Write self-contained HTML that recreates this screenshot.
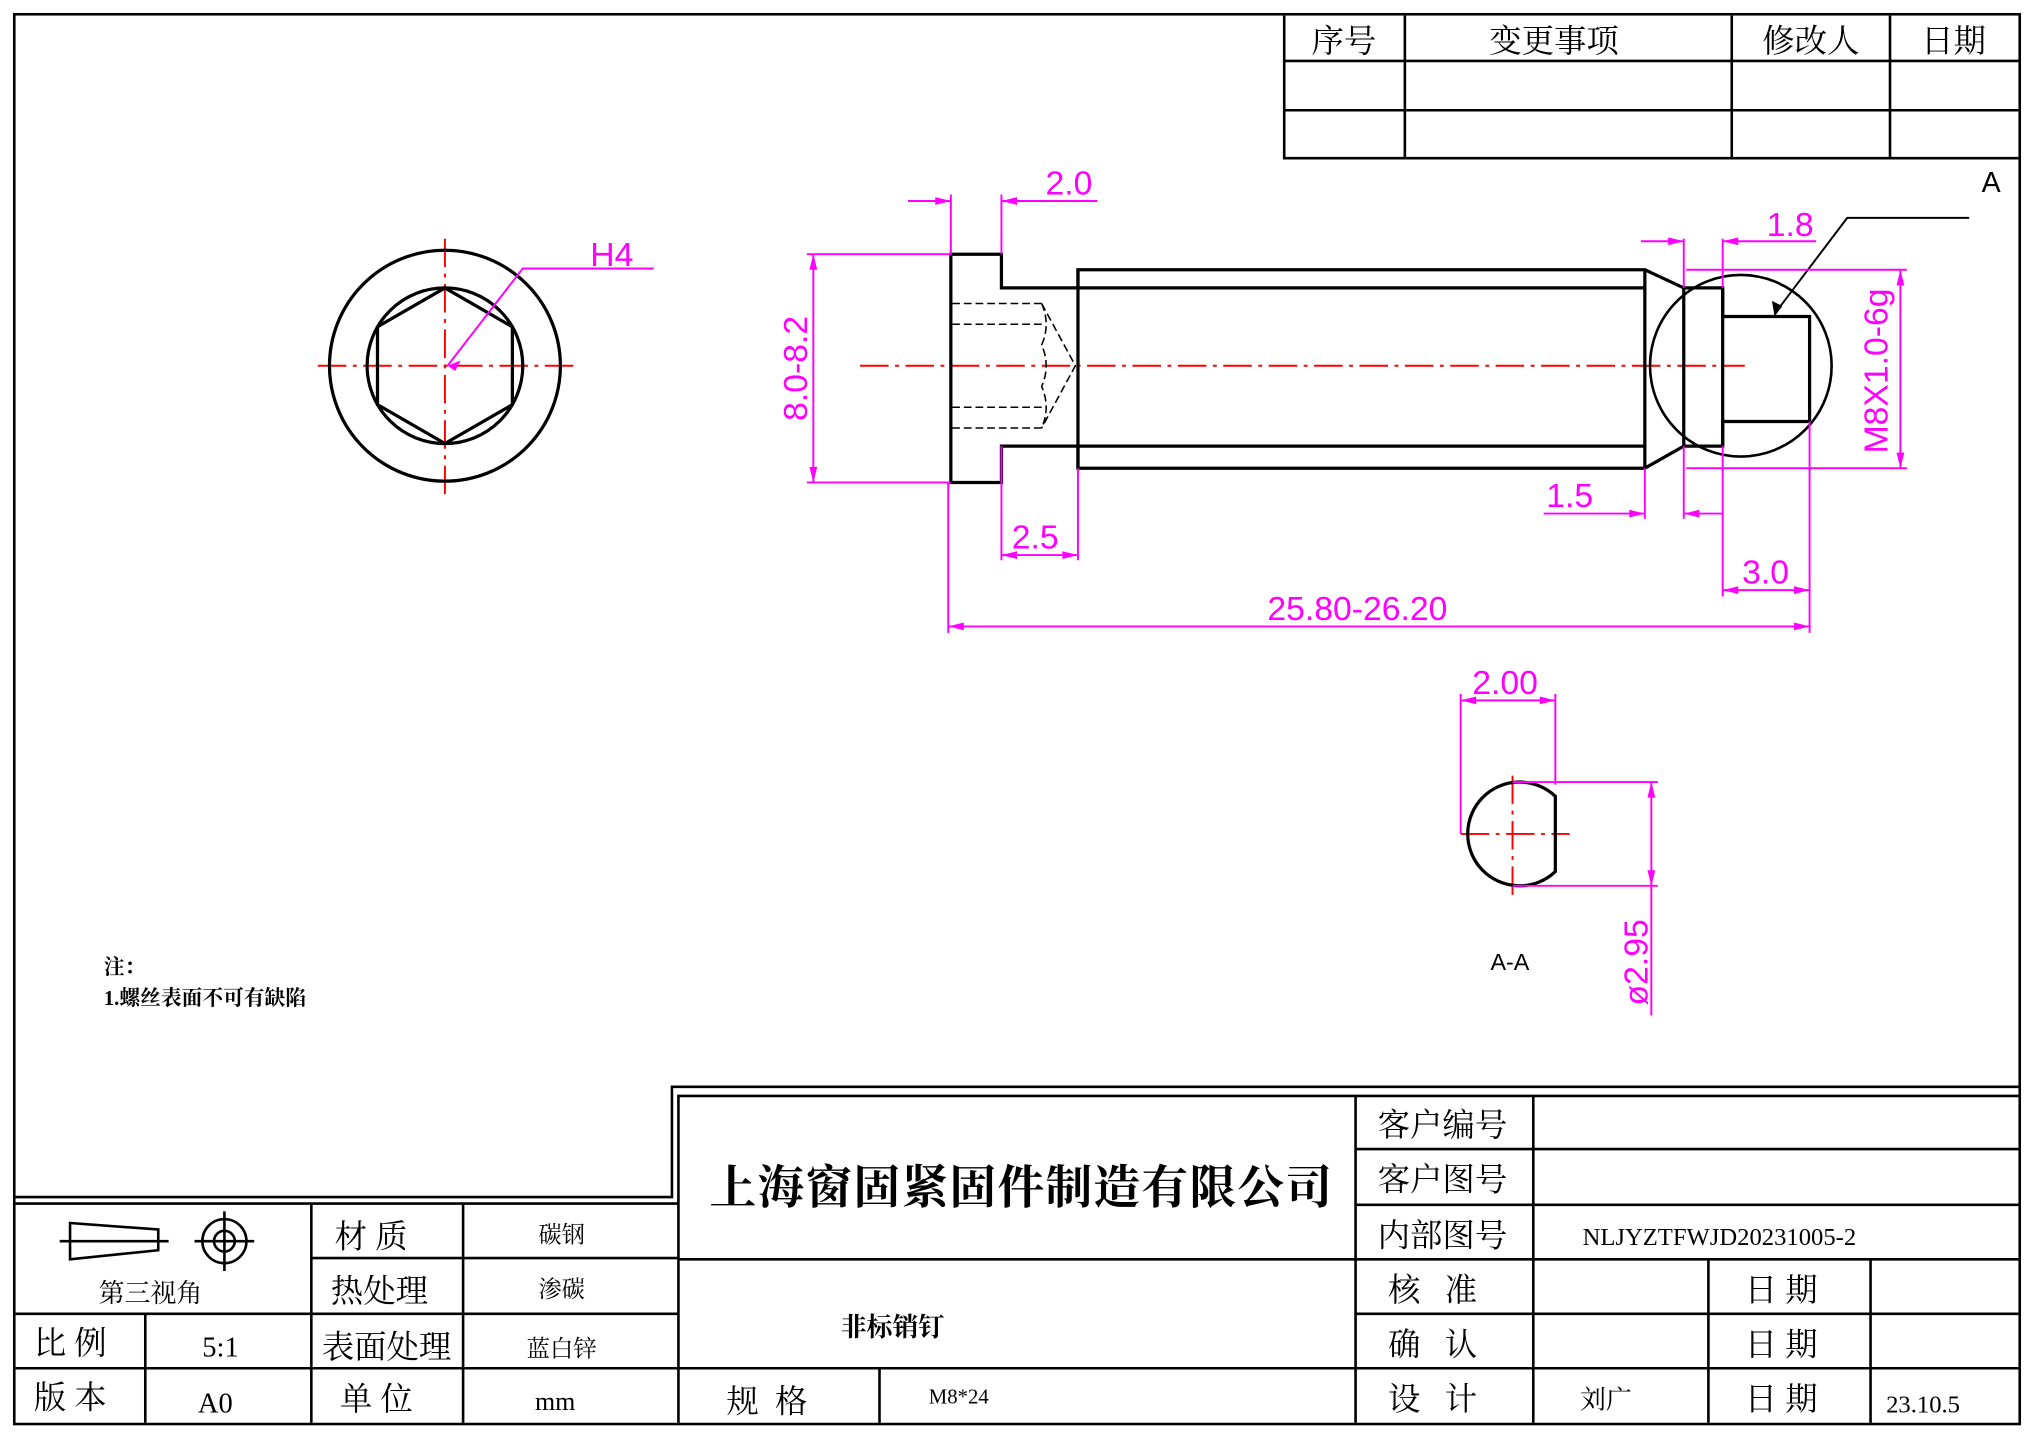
<!DOCTYPE html>
<html><head><meta charset="utf-8"><style>
html,body{margin:0;padding:0;background:#fff}
svg{display:block}
.c{font-family:"Liberation Serif","Noto Serif CJK SC",serif;fill:#000}
.d{font-family:"Liberation Sans",sans-serif;fill:#f0f}
</style></head><body>
<svg width="2034" height="1437" viewBox="0 0 1568 1108" preserveAspectRatio="none" xmlns="http://www.w3.org/2000/svg">
<rect x="0" y="0" width="1568" height="1108" fill="#fff"/>
<g stroke="#000" stroke-width="2" fill="none">
<rect x="11" y="11" width="1546" height="1087"/>
<path d="M990 12V122H1556M990 47H1556M990 85H1556M1083 12V122M1335 12V122M1457 12V122"/>
<path d="M12 923H518V838H1556M12 928H523V845H1556M523 845V1097"/>
<path d="M12 1013H523M12 1055H523M240 928V1097M357 928V1097M112 1013V1097M240 970H523"/>
<path d="M523 971H1556M523 1055H1045M678 1055V1097M1045 845V1097M1045 886H1556M1045 929H1556M1045 1013H1556M1045 1055H1556M1182 845V1097M1317 971V1097M1442 971V1097"/>
</g>
<g stroke="#000" stroke-width="2" fill="none">
<path d="M54 943L122 948V964L54 971Z"/><path d="M46 957H130"/>
<circle cx="173" cy="957" r="17"/><circle cx="173" cy="957" r="8"/><path d="M150 957H196M173 934V980"/>
</g>
<g class="c" font-size="25" text-anchor="middle">
<text x="1036" y="40">序号</text><text x="1198" y="40">变更事项</text><text x="1396" y="40">修改人</text><text x="1506" y="40">日期</text>
</g>
<text x="1535" y="148" class="d" font-size="22" style="fill:#000" text-anchor="middle">A</text>
<g class="c">
<text x="787" y="928" font-size="36" text-anchor="middle" font-weight="bold" textLength="480">上海窗固紧固件制造有限公司</text>
<text x="688" y="1030" font-size="20" text-anchor="middle" font-weight="bold">非标销钉</text>
<text x="116" y="1004" font-size="20" text-anchor="middle">第三视角</text>
<text x="258" y="962" font-size="25">材 质</text><text x="255" y="1004" font-size="25">热处理</text><text x="248" y="1047" font-size="25">表面处理</text><text x="262" y="1087" font-size="25">单 位</text>
<text x="433" y="958" font-size="18" text-anchor="middle">碳钢</text><text x="433" y="1000" font-size="18" text-anchor="middle">渗碳</text><text x="433" y="1046" font-size="18" text-anchor="middle">蓝白锌</text><text x="428" y="1087" font-size="20" text-anchor="middle">mm</text>
<text x="26" y="1044" font-size="25">比 例</text><text x="26" y="1086" font-size="25">版 本</text>
<text x="170" y="1046" font-size="22" text-anchor="middle">5:1</text><text x="166" y="1089" font-size="22" text-anchor="middle">A0</text>
<text x="560" y="1089" font-size="25">规&#160;&#160;格</text><text x="716" y="1082" font-size="16">M8*24</text>
<text x="1062" y="876" font-size="25">客户编号</text><text x="1062" y="918" font-size="25">客户图号</text><text x="1062" y="961" font-size="25">内部图号</text>
<text x="1070" y="1003" font-size="25">核&#160;&#160;&#160;准</text><text x="1070" y="1045" font-size="25">确&#160;&#160;&#160;认</text><text x="1070" y="1087" font-size="25">设&#160;&#160;&#160;计</text>
<text x="1345" y="1003" font-size="25">日&#160;期</text><text x="1345" y="1045" font-size="25">日&#160;期</text><text x="1345" y="1087" font-size="25">日&#160;期</text>
<text x="1220" y="960" font-size="19">NLJYZTFWJD20231005-2</text>
<text x="1218" y="1086" font-size="20">刘广</text><text x="1454" y="1089" font-size="19">23.10.5</text>
<text x="80" y="751" font-size="16" font-weight="bold">注：</text><text x="80" y="775" font-size="16" font-weight="bold">1.螺丝表面不可有缺陷</text>
</g>
<g stroke="#f00" stroke-width="1.5" stroke-dasharray="22,5,3,5" fill="none">
<path d="M245 282H443M343 184V382M663 282H1345M1126 643H1210M1166 598V690"/>
</g>
<g stroke="#000" stroke-width="2.5" fill="none">
<circle cx="343" cy="282" r="89"/><circle cx="343" cy="282" r="60"/>
<polygon points="343,222 395,252 395,312 343,342 291,312 291,252"/>
</g>
<g stroke="#000" stroke-width="2.5" fill="none">
<path d="M733 196H772V222H831V208H1268L1298 222H1328V244H1395V325H1328V344H1298L1268 361H831V344H772V372H733Z"/>
<path d="M831 208V361M831 222H1268M831 344H1268M1268 208V361M1298 222V344M1328 222V344"/>
<circle cx="1342" cy="282" r="70" stroke-width="2"/>
<path d="M1518 168H1424L1368 242" stroke-width="1.5"/>
</g>
<path d="M1368 244L1366 232L1374 236Z" fill="#000"/>
<g stroke="#000" stroke-width="1.2" stroke-dasharray="6,3" fill="none">
<path d="M734 234H803M734 250H803M734 314H803M734 330H803M803 234L829 282L803 330M803 234Q810 250 803 266Q810 282 803 298Q810 314 803 330"/>
</g>
<g stroke="#000" stroke-width="2.5" fill="none">
<path d="M1199 614A40 40 0 1 0 1199 672Z"/>
</g>
<text x="1164" y="748" font-family="Liberation Sans,sans-serif" font-size="18" text-anchor="middle">A-A</text>
<g stroke="#f0f" stroke-width="1.5" fill="none">
<path d="M345 282L403 207H504"/>
<path d="M733 196V150M772 196V150M700 155H733M772 155H846"/>
<path d="M733 196H622M733 372H622M627 196V372"/>
<path d="M772 344V432M831 361V432M772 428H831"/>
<path d="M731 372V488M1395 325V488M731 483H1395"/>
<path d="M1298 222V184M1328 222V184M1265 186H1298M1328 186H1400"/>
<path d="M1268 361V400M1298 344V400M1328 344V460M1190 396H1268M1298 396H1328"/>
<path d="M1328 455H1395"/>
<path d="M1300 208H1470M1300 361H1470M1465 208V361"/>
<path d="M1126 643V535M1199 605V535M1126 540H1199"/>
<path d="M1166 603H1278M1166 683H1278M1273 603V783"/>
</g>
<g fill="#f0f">
<path d="M733 155l-12-3v6zM772 155l12-3v6zM627 196l-3 12h6zM627 372l-3-12h6zM772 428l12-3v6zM831 428l-12-3v6zM731 483l12-3v6zM1395 483l-12-3v6zM1298 186l-12-3v6zM1328 186l12-3v6zM1268 396l-12-3v6zM1298 396l12-3v6zM1328 455l12-3v6zM1395 455l-12-3v6zM1465 208l-3 12h6zM1465 361l-3-12h6zM1126 540l12-3v6zM1199 540l-12-3v6zM1273 603l-3 12h6zM1273 683l-3-12h6zM345 282l10-4-4 8z"/>
</g>
<g class="d" font-size="26">
<text x="455" y="205">H4</text><text x="806" y="150">2.0</text>
<text x="622" y="284" transform="rotate(-90 622 284)" text-anchor="middle">8.0-8.2</text>
<text x="780" y="423">2.5</text><text x="977" y="478">25.80-26.20</text>
<text x="1362" y="182">1.8</text><text x="1192" y="391">1.5</text><text x="1343" y="450">3.0</text>
<text x="1455" y="286" transform="rotate(-90 1455 286)" text-anchor="middle">M8X1.0-6g</text>
<text x="1135" y="535">2.00</text>
<text x="1270" y="742" transform="rotate(-90 1270 742)" text-anchor="middle">ø2.95</text>
</g>
</svg>
</body></html>
